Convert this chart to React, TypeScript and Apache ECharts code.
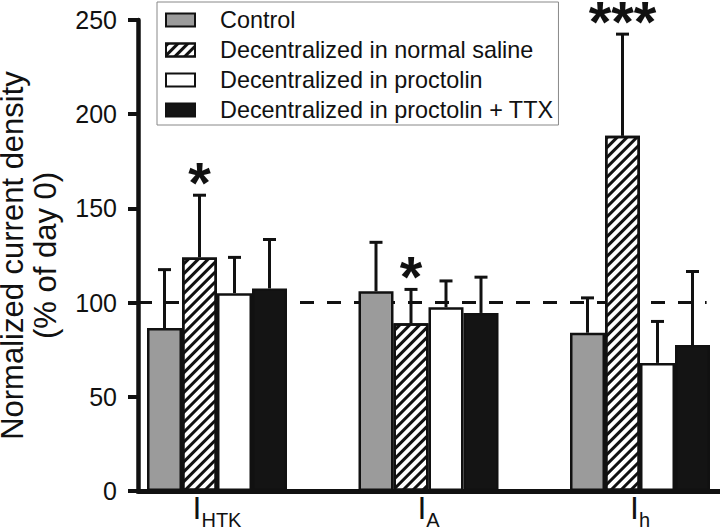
import React, { useEffect, useRef } from 'react';
import * as echarts from 'echarts';

const FONT = 'Liberation Sans, Arial, Helvetica, sans-serif';

// Data
const categories = ['HTK', 'A', 'h'];
const seriesNames = [
  'Control',
  'Decentralized in normal saline',
  'Decentralized in proctolin',
  'Decentralized in proctolin + TTX',
];
const controlMean = [86.5, 106, 84];
const controlErr = [31, 26, 18.5];
const salineMean = [124, 89, 188.5];
const salineErr = [33, 18, 54];
const proctolinMean = [105, 97.5, 68];
const proctolinErr = [19, 14, 22];
const ttxMean = [107.5, 94.5, 77.5];
const ttxErr = [26, 19, 39];
const salineSig = ['*', '*', '***'];
const referenceLevel = 100;
const yMin = 0;
const yMax = 250;
const yInterval = 50;

const means = [controlMean, salineMean, proctolinMean, ttxMean];
const errs = [controlErr, salineErr, proctolinErr, ttxErr];
const sigs = [[], salineSig, [], []];

const BAR_W = 35;

const hatch = {
  symbol: 'rect',
  symbolSize: 1,
  dashArrayX: [1, 0],
  dashArrayY: [3, 4],
  rotation: -Math.PI / 4,
  color: '#111',
  backgroundColor: '#ffffff',
};

const barStyles = [
  { color: '#9b9b9b' },
  { color: '#ffffff', decal: hatch },
  { color: '#ffffff' },
  { color: '#141414' },
];

export default function App() {
  const ref = useRef<HTMLDivElement>(null);
  useEffect(() => {
    if (!ref.current) return;
    const chart = echarts.init(ref.current, null, { renderer: 'svg' });

    const errRows: number[][] = [];
    const errSig: string[] = [];
    means.forEach((m, si) => {
      m.forEach((v, ci) => {
        errRows.push([ci, v, errs[si][ci], si]);
        errSig.push((sigs[si] as string[])[ci] || '');
      });
    });

    const barSeries = seriesNames.map((name, si) => ({
      name,
      type: 'bar',
      xAxisIndex: 1,
      yAxisIndex: 1,
      barWidth: BAR_W,
      barGap: '0%',
      clip: false,
      z: 2,
      data: means[si],
      itemStyle: {
        ...barStyles[si],
        borderColor: '#111',
        borderWidth: 2.5,
      },
    }));

    const option: any = {
      animation: false,
      backgroundColor: '#ffffff',
      textStyle: { fontFamily: FONT },
      legend: {
        orient: 'vertical',
        left: 157,
        top: 2,
        padding: [4, 5, 1, 8],
        itemGap: 2,
        itemWidth: 29,
        itemHeight: 13,
        icon: 'rect',
        borderColor: '#888',
        borderWidth: 1,
        backgroundColor: '#fff',
        textStyle: { fontSize: 23.4, color: '#111', fontFamily: FONT, lineHeight: 28, padding: [0, 0, 0, 20] },
        data: seriesNames,
      },
      grid: [
        { left: 138, right: 0, top: 20, bottom: 41, outerBoundsMode: 'none', containLabel: false },
        { left: 217, right: 80, top: 20, bottom: 41, outerBoundsMode: 'none', containLabel: false },
      ],
      xAxis: [
        {
          gridIndex: 0,
          type: 'value',
          min: 0,
          max: 1,
          axisLine: { show: true, lineStyle: { color: '#111', width: 5 } },
          axisTick: { show: false },
          axisLabel: { show: false },
          splitLine: { show: false },
        },
        {
          gridIndex: 1,
          type: 'category',
          boundaryGap: false,
          data: categories,
          axisLine: { show: false },
          axisTick: { show: false },
          axisLabel: {
            margin: 7,
            formatter: (v: string) => `{m|I}{s|${v}}`,
            rich: {
              m: { fontSize: 32, fontFamily: FONT, color: '#111', padding: [0, 0, 12, 0], lineHeight: 32 },
              s: { fontSize: 20, fontFamily: FONT, color: '#111', verticalAlign: 'bottom', lineHeight: 20 },
            },
          },
          splitLine: { show: false },
        },
      ],
      yAxis: [
        {
          gridIndex: 0,
          type: 'value',
          min: yMin,
          max: yMax,
          interval: yInterval,
          position: 'left',
          axisLine: { show: true, lineStyle: { color: '#111', width: 4.5 } },
          axisTick: { show: true, length: 10, lineStyle: { color: '#111', width: 4 } },
          axisLabel: { fontSize: 25, color: '#111', margin: 21, fontFamily: FONT },
          splitLine: { show: false },
          name: 'Normalized current density\n(% of day 0)',
          nameLocation: 'middle',
          nameRotate: 90,
          nameGap: 76.5,
          nameTextStyle: { fontSize: 31, color: '#111', fontFamily: FONT, lineHeight: 33 },
        },
        {
          gridIndex: 1,
          type: 'value',
          min: yMin,
          max: yMax,
          interval: yInterval,
          show: false,
        },
      ],
      series: [
        {
          type: 'line',
          xAxisIndex: 0,
          yAxisIndex: 0,
          data: [[0.5, referenceLevel]],
          showSymbol: false,
          symbol: 'none',
          lineStyle: { opacity: 0 },
          silent: true,
          z: 1,
          markLine: {
            silent: true,
            symbol: 'none',
            z: 1,
            label: { show: false },
            lineStyle: { color: '#111', width: 3, type: [14, 13] },
            data: [[{ coord: [0, referenceLevel] }, { coord: [0.977, referenceLevel] }]],
          },
        },
        ...barSeries,
        {
          type: 'custom',
          xAxisIndex: 1,
          yAxisIndex: 1,
          z: 3,
          silent: true,
          clip: false,
          data: errRows,
          encode: { x: 0, y: 1 },
          renderItem: (params: any, api: any) => {
            const cat = api.value(0);
            const mean = api.value(1);
            const err = api.value(2);
            const si = api.value(3);
            const base = api.coord([cat, mean]);
            const top = api.coord([cat, mean + err]);
            const x = base[0] + (si - (seriesNames.length - 1) / 2) * BAR_W;
            const children: any[] = [
              { type: 'line', shape: { x1: x, y1: base[1], x2: x, y2: top[1] }, style: { stroke: '#111', lineWidth: 3 } },
              { type: 'line', shape: { x1: x - 6.5, y1: top[1], x2: x + 6.5, y2: top[1] }, style: { stroke: '#111', lineWidth: 3 } },
            ];
            const sig = errSig[params.dataIndex];
            if (sig) {
              children.push({
                type: 'text',
                style: {
                  text: sig,
                  x,
                  y: top[1] - 12.5,
                  align: 'center',
                  verticalAlign: 'middle',
                  fontSize: 58,
                  lineHeight: 40,
                  fontWeight: 'bold',
                  fontFamily: FONT,
                  fill: '#111',
                },
              });
            }
            return { type: 'group', children };
          },
        },
      ],
    };
    chart.setOption(option);
    return () => chart.dispose();
  }, []);
  return <div ref={ref} style={{ position: 'fixed', left: 0, top: 0, width: 720, height: 532 }} />;
}
